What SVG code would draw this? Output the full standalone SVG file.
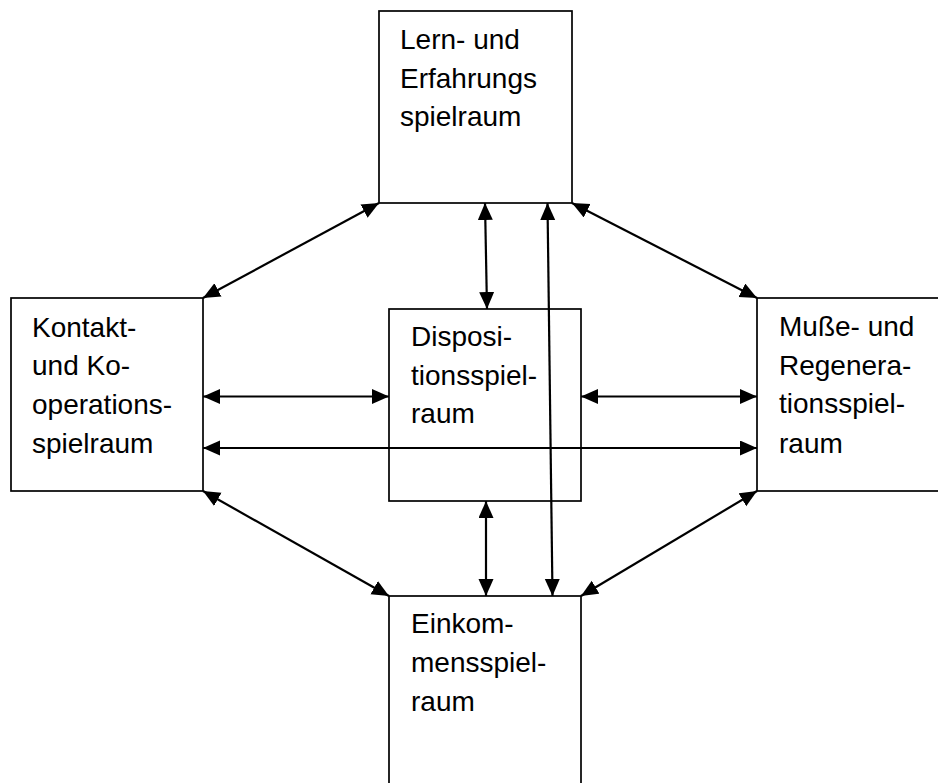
<svg xmlns="http://www.w3.org/2000/svg" width="938" height="783" viewBox="0 0 938 783">
<style>
.box{fill:#fff;stroke:#000;stroke-width:1.7}
.lbl{font-family:"Liberation Sans",Arial,sans-serif;font-size:28px;fill:#000}
.conn line{stroke:#000;stroke-width:2.2;marker-start:url(#ah);marker-end:url(#ah)}
</style>
<defs>
<marker id="ah" markerUnits="userSpaceOnUse" markerWidth="18" markerHeight="16" refX="17" refY="7.5" orient="auto-start-reverse" viewBox="0 0 18 16">
<path d="M0,0 L17,7.5 L0,15 z" fill="#000"/>
</marker>
</defs>
<rect width="938" height="783" fill="#fff"/>
<g id="top"><rect class="box" x="379" y="11" width="193" height="192"/>
<text class="lbl"><tspan x="400" y="49">Lern- und</tspan><tspan x="400" y="87.5">Erfahrungs</tspan><tspan x="400" y="126">spielraum</tspan></text></g>
<g id="left"><rect class="box" x="11" y="298" width="192" height="193"/>
<text class="lbl"><tspan x="32" y="337">Kontakt-</tspan><tspan x="32" y="375">und Ko-</tspan><tspan x="32" y="414">operations-</tspan><tspan x="32" y="453">spielraum</tspan></text></g>
<g id="center"><rect class="box" x="389" y="309" width="192" height="192"/>
<text class="lbl"><tspan x="411" y="346">Disposi-</tspan><tspan x="411" y="385">tionsspiel-</tspan><tspan x="411" y="423">raum</tspan></text></g>
<g id="right"><rect class="box" x="757" y="298" width="192" height="193"/>
<text class="lbl"><tspan x="779" y="336">Muße- und</tspan><tspan x="779" y="375">Regenera-</tspan><tspan x="779" y="413">tionsspiel-</tspan><tspan x="779" y="453">raum</tspan></text></g>
<g id="bottom"><rect class="box" x="389" y="596" width="192" height="200"/>
<text class="lbl"><tspan x="411" y="633">Einkom-</tspan><tspan x="411" y="672">mensspiel-</tspan><tspan x="411" y="711">raum</tspan></text></g>
<g id="connectors" class="conn">
<line x1="379" y1="203" x2="203" y2="298"/>
<line x1="572" y1="203" x2="757" y2="298"/>
<line x1="203" y1="491" x2="389" y2="596"/>
<line x1="757" y1="491" x2="581" y2="596"/>
<line x1="485" y1="203" x2="487" y2="309"/>
<line x1="547.5" y1="203" x2="552.5" y2="596"/>
<line x1="486" y1="501" x2="486" y2="596"/>
<line x1="203" y1="396.5" x2="389" y2="396.5"/>
<line x1="581" y1="396.5" x2="757" y2="396.5"/>
<line x1="203" y1="448" x2="757" y2="448"/>
</g>
</svg>
